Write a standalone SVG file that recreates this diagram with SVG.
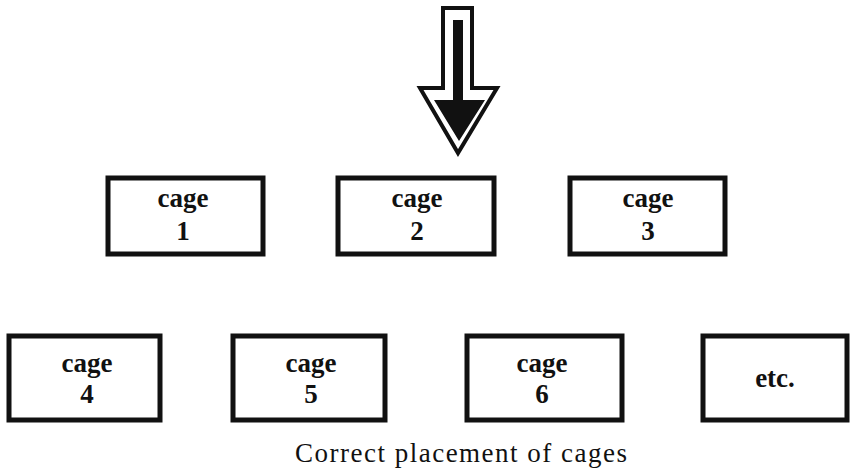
<svg xmlns="http://www.w3.org/2000/svg" width="850" height="473" viewBox="0 0 850 473">
<style>
.box{fill:#fff;stroke:#111;stroke-width:5}
.lbl{font-family:"Liberation Serif","Times New Roman",serif;font-weight:bold;font-size:27px;fill:#111;text-anchor:middle}
.cap{font-family:"Liberation Serif","Times New Roman",serif;font-size:27px;fill:#111}
</style>
<rect width="850" height="473" fill="#fff"/>
<g id="arrow">
<path d="M443,8 L472,8 L472,88 L497,88 L458,153 L420,88 L443,88 Z" fill="#fff" stroke="#111" stroke-width="4" stroke-linejoin="miter"/>
<path d="M453,20 L463,20 L463,100 L485,100 L459,141 L434,100 L453,100 Z" fill="#111"/>
</g>
<g id="cage1"><rect class="box" x="108" y="178" width="155" height="76"/><text class="lbl" x="183" y="207">cage</text><text class="lbl" x="183" y="240">1</text></g>
<g id="cage2"><rect class="box" x="338" y="178" width="156" height="76"/><text class="lbl" x="417" y="207">cage</text><text class="lbl" x="417" y="240">2</text></g>
<g id="cage3"><rect class="box" x="570" y="178" width="155" height="76"/><text class="lbl" x="648" y="207">cage</text><text class="lbl" x="648" y="240">3</text></g>
<g id="cage4"><rect class="box" x="9" y="336" width="151" height="84"/><text class="lbl" x="87" y="372">cage</text><text class="lbl" x="87" y="403">4</text></g>
<g id="cage5"><rect class="box" x="233" y="336" width="152" height="84"/><text class="lbl" x="311" y="372">cage</text><text class="lbl" x="311" y="403">5</text></g>
<g id="cage6"><rect class="box" x="467" y="336" width="155" height="84"/><text class="lbl" x="542" y="372">cage</text><text class="lbl" x="542" y="403">6</text></g>
<g id="etc"><rect class="box" x="703" y="336" width="144" height="84"/><text class="lbl" x="775" y="387">etc.</text></g>
<text class="cap" x="295" y="462" textLength="332" lengthAdjust="spacing">Correct placement of cages</text>
</svg>
